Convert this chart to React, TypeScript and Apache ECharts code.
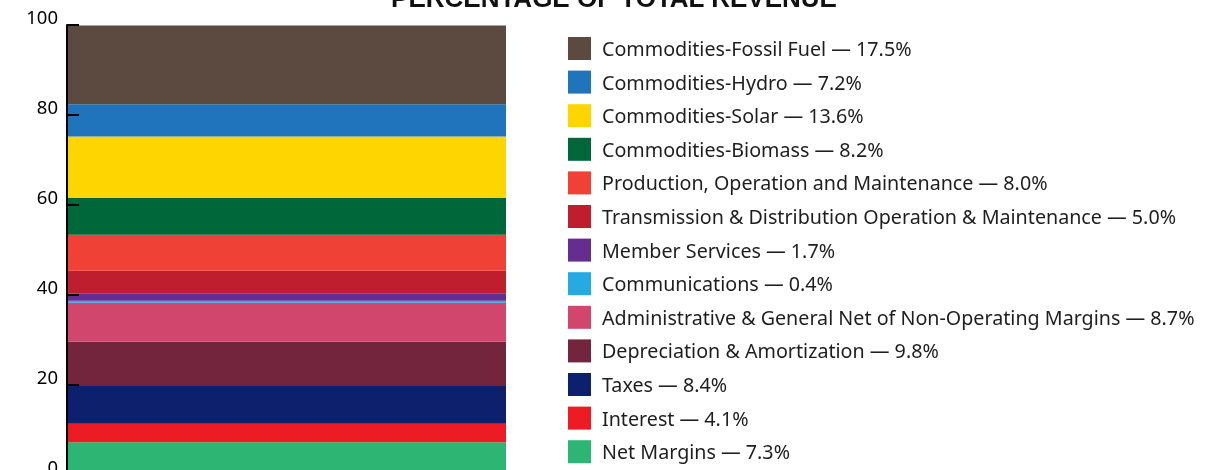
import React, { useEffect, useRef } from "react";
import * as echarts from "echarts";

const TITLE = "PERCENTAGE OF TOTAL REVENUE";

// bottom-to-top stack order
const categories = [
  "Net Margins",
  "Interest",
  "Taxes",
  "Depreciation & Amortization",
  "Administrative & General Net of Non-Operating Margins",
  "Communications",
  "Member Services",
  "Transmission & Distribution Operation & Maintenance",
  "Production, Operation and Maintenance",
  "Commodities-Biomass",
  "Commodities-Solar",
  "Commodities-Hydro",
  "Commodities-Fossil Fuel",
];
const values = [7.3, 4.1, 8.4, 9.8, 8.7, 0.4, 1.7, 5.0, 8.0, 8.2, 13.6, 7.2, 17.5];
const colors = [
  "#2db673",
  "#ed1c24",
  "#0c206e",
  "#72253d",
  "#d0466c",
  "#27aae1",
  "#662d91",
  "#be1e2d",
  "#ef4136",
  "#00673a",
  "#ffd500",
  "#1f74bc",
  "#5c4a41",
];
const yTicks = { min: 0, max: 100, interval: 20 };

const FONT = "'Noto Sans', sans-serif";

export default function App() {
  const ref = useRef<HTMLDivElement>(null);
  useEffect(() => {
    if (!ref.current) return;
    const chart = echarts.init(ref.current, undefined, { renderer: "svg" });
    const lookup: Record<string, number> = {};
    categories.forEach((c, i) => (lookup[c] = values[i]));
    chart.setOption({
      animation: false,
      graphic: [
        {
          type: "text",
          x: 614,
          y: -2,
          style: {
            text: TITLE,
            align: "center",
            verticalAlign: "middle",
            font: "bold 26px 'Liberation Sans', Arial, sans-serif",
            fill: "#111",
          },
        },
      ],
      grid: { left: 67, top: 25, width: 439, height: 450, outerBoundsMode: "none", containLabel: false },
      legend: {
        orient: "vertical",
        left: 568,
        top: 37,
        padding: 0,
        itemWidth: 23,
        itemHeight: 23,
        itemGap: 10.6,
        icon: "rect",
        selectedMode: false,
        data: categories.slice().reverse(),
        formatter: (name: string) => `${name} — ${lookup[name].toFixed(1)}%`,
        textStyle: {
          fontSize: 19.7,
          fontFamily: FONT,
          color: "#1e1e1e",
          padding: [0, 0, 0, 6],
        },
      },
      xAxis: {
        type: "category",
        data: ["Revenue"],
        show: false,
      },
      yAxis: {
        type: "value",
        z: 10,
        min: yTicks.min,
        max: yTicks.max,
        interval: yTicks.interval,
        splitLine: { show: false },
        axisLine: { show: true, lineStyle: { color: "#000", width: 2 } },
        axisTick: { show: true, inside: true, length: 12, lineStyle: { color: "#000", width: 2 } },
        axisLabel: {
          color: "#000",
          fontSize: 18.5,
          fontFamily: FONT,
          margin: 9,
          verticalAlign: "bottom",
          lineHeight: 17,
        },
      },
      series: categories.map((name, i) => ({
        name,
        type: "bar",
        stack: "total",
        z: 2,
        barWidth: "100%",
        data: [values[i]],
        itemStyle: { color: colors[i] },
      })),
    });
    return () => chart.dispose();
  }, []);
  return (
    <div
      ref={ref}
      style={{ position: "fixed", left: 0, top: 0, width: 1232, height: 470 }}
    />
  );
}
